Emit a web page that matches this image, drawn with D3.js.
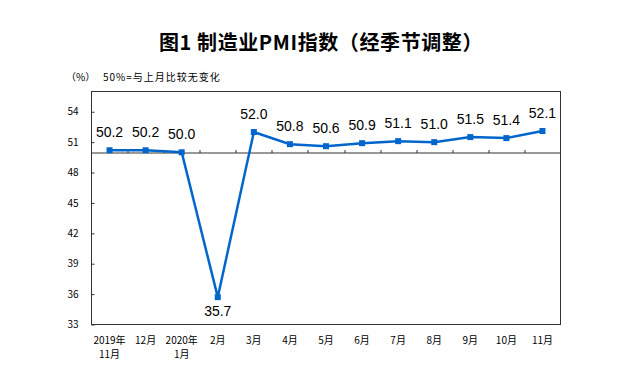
<!DOCTYPE html>
<html>
<head>
<meta charset="utf-8">
<script src="https://cdn.jsdelivr.net/npm/d3@7"></script>
<style>
  body { margin: 0; background: #fff; }
  svg text { fill: #000; }
</style>
</head>
<body>
<svg id="chart" width="631" height="388"></svg>
<script>
// data
var months = ["2019年\n11月", "12月", "2020年\n1月", "2月", "3月", "4月", "5月", "6月", "7月", "8月", "9月", "10月", "11月"];
var pmi = [50.2, 50.2, 50.0, 35.7, 52.0, 50.8, 50.6, 50.9, 51.1, 51.0, 51.5, 51.4, 52.1];
var yTicks = [33, 36, 39, 42, 45, 48, 51, 54];

var cjk = "'Noto Sans CJK SC', sans-serif";

var margin = {top: 91.5, right: 70.5, bottom: 63.5, left: 91.5},
    width = 631 - margin.left - margin.right,
    height = 388 - margin.top - margin.bottom;

var svg = d3.select("#chart");

svg.append("text")
    .attr("x", 321)
    .attr("y", 50)
    .attr("text-anchor", "middle")
    .style("font-family", cjk)
    .style("font-size", "20px")
    .style("font-weight", "bold")
    .style("letter-spacing", "0.6px")
    .text("图1 制造业PMI指数（经季节调整）");

svg.append("text")
    .attr("x", 66)
    .attr("y", 81)
    .style("font-family", cjk)
    .style("font-size", "10px")
    .text("（%）");

svg.append("text")
    .attr("x", 103)
    .attr("y", 81)
    .style("font-family", cjk)
    .style("font-size", "10px")
    .style("letter-spacing", "1px")
    .text("50%=与上月比较无变化");

var x = d3.scaleBand()
    .domain(months)
    .range([0, width])
    .padding(0);

var y = d3.scaleLinear()
    .domain([33, 56])
    .range([height, 0]);

var chart = svg.append("g")
    .attr("transform", "translate(" + margin.left + "," + margin.top + ")");

// plot frame
chart.append("rect")
    .attr("width", width)
    .attr("height", height)
    .attr("fill", "none")
    .attr("stroke", "#333")
    .attr("stroke-width", 1);

// y axis, ticks pointing inside
var yAxis = d3.axisLeft(y)
    .tickValues(yTicks)
    .tickSizeInner(-3)
    .tickSizeOuter(0)
    .tickPadding(13);

chart.append("g")
    .attr("class", "y axis")
    .call(yAxis)
    .call(function(g) { g.select(".domain").remove(); })
    .call(function(g) { g.selectAll(".tick line").attr("stroke", "#333"); })
    .call(function(g) {
        g.selectAll(".tick text")
            .style("font-family", cjk)
            .style("font-size", "10px");
    });

// 50 line with category ticks going up
var baseY = Math.round(y(50)) + 0.5;
chart.append("line")
    .attr("x1", 0)
    .attr("x2", width)
    .attr("y1", baseY)
    .attr("y2", baseY)
    .attr("stroke", "#333")
    .attr("stroke-width", 1);

chart.selectAll(".cat-tick")
    .data(months.slice(1))
  .enter().append("line")
    .attr("class", "cat-tick")
    .attr("x1", function(d) { return Math.round(x(d)) + 0.5; })
    .attr("x2", function(d) { return Math.round(x(d)) + 0.5; })
    .attr("y1", baseY)
    .attr("y2", baseY - 3)
    .attr("stroke", "#333");

// category labels below the frame
var cx = function(d) { return x(d) + x.bandwidth() / 2; };
var xLab = chart.selectAll(".x-label")
    .data(months)
  .enter().append("text")
    .attr("class", "x-label")
    .attr("text-anchor", "middle")
    .style("font-family", cjk)
    .style("font-size", "10px");

xLab.selectAll("tspan")
    .data(function(d) { return d.split("\n").map(function(t) { return {cat: d, t: t}; }); })
  .enter().append("tspan")
    .attr("x", function(d) { return cx(d.cat); })
    .attr("y", function(d, i) { return height + 19 + i * 14; })
    .text(function(d) { return d.t; });

// the series
var points = months.map(function(m, i) { return {m: m, v: pmi[i]}; });

var line = d3.line()
    .x(function(d) { return cx(d.m); })
    .y(function(d) { return y(d.v); });

chart.append("path")
    .datum(points)
    .attr("fill", "none")
    .attr("stroke", "#0066cc")
    .attr("stroke-width", 2.5)
    .attr("d", line);

chart.selectAll(".marker")
    .data(points)
  .enter().append("rect")
    .attr("class", "marker")
    .attr("x", function(d) { return cx(d.m) - 3; })
    .attr("y", function(d) { return y(d.v) - 3; })
    .attr("width", 6)
    .attr("height", 6)
    .attr("fill", "#0066cc");

chart.selectAll(".val")
    .data(points)
  .enter().append("text")
    .attr("class", "val")
    .attr("text-anchor", "middle")
    .attr("x", function(d) { return cx(d.m); })
    .attr("y", function(d) { return d.v < 50 ? y(d.v) + 18.5 : y(d.v) - 13; })
    .style("font-family", "'Liberation Sans', Arial, sans-serif")
    .style("font-size", "14px")
    .text(function(d) { return d3.format(".1f")(d.v); });
</script>
</body>
</html>
